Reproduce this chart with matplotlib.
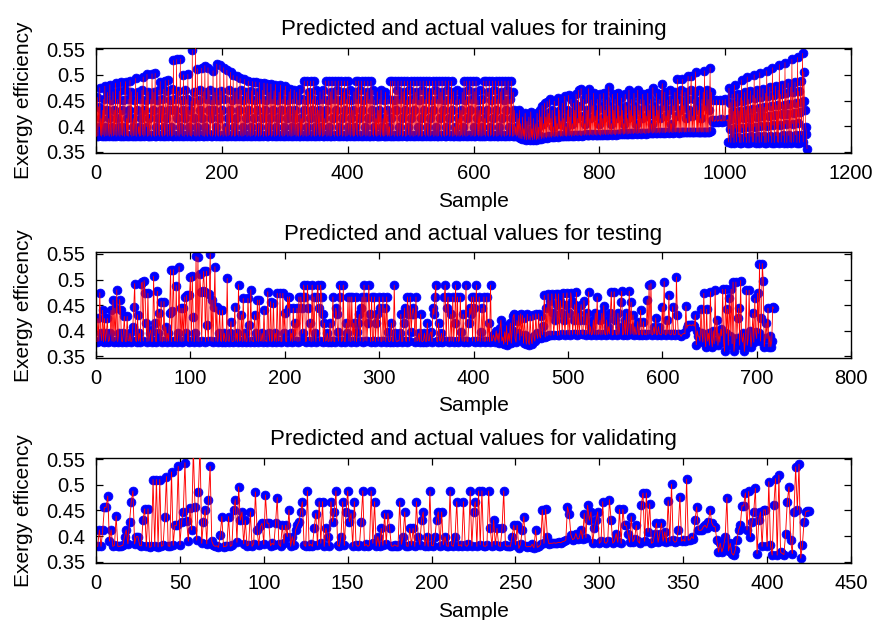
import numpy as np
import matplotlib
matplotlib.use("Agg")
import matplotlib.pyplot as plt

# ---------------- data ----------------
train_actual = [
    0.380, 0.456, 0.381, 0.438, 0.399, 0.475, 0.382, 0.415, 0.380, 0.431,
    0.383, 0.452, 0.380, 0.478, 0.399, 0.381, 0.431, 0.466, 0.382, 0.415,
    0.380, 0.481, 0.384, 0.451, 0.380, 0.399, 0.467, 0.381, 0.431, 0.383,
    0.484, 0.380, 0.415, 0.452, 0.382, 0.399, 0.468, 0.380, 0.486, 0.383,
    0.431, 0.381, 0.451, 0.399, 0.380, 0.470, 0.487, 0.382, 0.415, 0.381,
    0.452, 0.380, 0.431, 0.489, 0.383, 0.467, 0.380, 0.399, 0.415, 0.381,
    0.451, 0.382, 0.493, 0.380, 0.431, 0.466, 0.384, 0.399, 0.380, 0.452,
    0.381, 0.415, 0.470, 0.383, 0.496, 0.380, 0.431, 0.382, 0.451, 0.399,
    0.501, 0.380, 0.467, 0.381, 0.415, 0.383, 0.452, 0.380, 0.502, 0.431,
    0.382, 0.466, 0.380, 0.503, 0.399, 0.381, 0.451, 0.415, 0.383, 0.470,
    0.380, 0.487, 0.431, 0.382, 0.452, 0.380, 0.472, 0.399, 0.381, 0.489,
    0.383, 0.415, 0.468, 0.380, 0.490, 0.431, 0.382, 0.451, 0.399, 0.380,
    0.473, 0.381, 0.528, 0.383, 0.431, 0.452, 0.380, 0.530, 0.415, 0.382,
    0.468, 0.380, 0.399, 0.531, 0.384, 0.451, 0.381, 0.431, 0.500, 0.380,
    0.415, 0.470, 0.383, 0.452, 0.380, 0.501, 0.399, 0.382, 0.431, 0.381,
    0.449, 0.380, 0.548, 0.383, 0.415, 0.466, 0.381, 0.560, 0.380, 0.399,
    0.512, 0.382, 0.451, 0.380, 0.470, 0.431, 0.383, 0.513, 0.415, 0.381,
    0.467, 0.380, 0.518, 0.399, 0.382, 0.452, 0.380, 0.514, 0.431, 0.384,
    0.470, 0.381, 0.415, 0.451, 0.380, 0.508, 0.383, 0.431, 0.466, 0.380,
    0.399, 0.521, 0.382, 0.451, 0.380, 0.415, 0.519, 0.381, 0.468, 0.383,
    0.431, 0.380, 0.514, 0.452, 0.382, 0.399, 0.380, 0.509, 0.415, 0.381,
    0.470, 0.383, 0.431, 0.505, 0.380, 0.451, 0.382, 0.499, 0.399, 0.380,
    0.467, 0.381, 0.415, 0.497, 0.383, 0.452, 0.380, 0.431, 0.493, 0.382,
    0.470, 0.380, 0.399, 0.451, 0.381, 0.491, 0.383, 0.415, 0.466, 0.380,
    0.431, 0.488, 0.382, 0.452, 0.380, 0.399, 0.469, 0.381, 0.487, 0.383,
    0.415, 0.451, 0.380, 0.486, 0.382, 0.431, 0.467, 0.380, 0.399, 0.485,
    0.381, 0.452, 0.383, 0.415, 0.470, 0.380, 0.484, 0.431, 0.382, 0.451,
    0.380, 0.483, 0.399, 0.381, 0.466, 0.383, 0.415, 0.482, 0.380, 0.452,
    0.382, 0.431, 0.469, 0.380, 0.481, 0.399, 0.381, 0.451, 0.383, 0.415,
    0.466, 0.380, 0.480, 0.431, 0.382, 0.452, 0.380, 0.399, 0.470, 0.381,
    0.478, 0.383, 0.415, 0.451, 0.380, 0.431, 0.467, 0.382, 0.472, 0.380,
    0.399, 0.452, 0.381, 0.415, 0.470, 0.383, 0.431, 0.380, 0.466, 0.382,
    0.451, 0.380, 0.399, 0.472, 0.381, 0.415, 0.383, 0.452, 0.380, 0.431,
    0.488, 0.382, 0.451, 0.380, 0.399, 0.488, 0.381, 0.467, 0.383, 0.415,
    0.488, 0.380, 0.431, 0.452, 0.382, 0.488, 0.380, 0.399, 0.470, 0.381,
    0.415, 0.451, 0.383, 0.431, 0.380, 0.467, 0.382, 0.399, 0.452, 0.380,
    0.470, 0.381, 0.415, 0.383, 0.488, 0.431, 0.380, 0.451, 0.382, 0.488,
    0.399, 0.380, 0.467, 0.381, 0.488, 0.415, 0.383, 0.452, 0.380, 0.488,
    0.431, 0.382, 0.470, 0.380, 0.488, 0.399, 0.381, 0.451, 0.383, 0.488,
    0.415, 0.380, 0.466, 0.382, 0.488, 0.431, 0.380, 0.452, 0.381, 0.488,
    0.399, 0.383, 0.470, 0.380, 0.415, 0.451, 0.382, 0.431, 0.380, 0.467,
    0.381, 0.399, 0.488, 0.383, 0.452, 0.380, 0.488, 0.415, 0.382, 0.470,
    0.380, 0.488, 0.431, 0.381, 0.451, 0.383, 0.488, 0.399, 0.380, 0.466,
    0.382, 0.488, 0.415, 0.380, 0.452, 0.381, 0.488, 0.431, 0.383, 0.470,
    0.380, 0.399, 0.451, 0.382, 0.415, 0.380, 0.467, 0.381, 0.431, 0.383,
    0.452, 0.380, 0.470, 0.399, 0.382, 0.415, 0.380, 0.451, 0.381, 0.466,
    0.383, 0.431, 0.380, 0.452, 0.382, 0.399, 0.380, 0.488, 0.415, 0.381,
    0.488, 0.383, 0.451, 0.380, 0.488, 0.431, 0.382, 0.470, 0.380, 0.488,
    0.399, 0.381, 0.452, 0.383, 0.488, 0.415, 0.380, 0.467, 0.382, 0.488,
    0.431, 0.380, 0.451, 0.381, 0.488, 0.399, 0.383, 0.470, 0.380, 0.488,
    0.415, 0.382, 0.452, 0.380, 0.488, 0.431, 0.381, 0.466, 0.383, 0.488,
    0.399, 0.380, 0.451, 0.382, 0.488, 0.415, 0.380, 0.470, 0.381, 0.488,
    0.431, 0.383, 0.452, 0.380, 0.488, 0.399, 0.382, 0.467, 0.380, 0.488,
    0.415, 0.381, 0.451, 0.383, 0.488, 0.431, 0.380, 0.470, 0.382, 0.488,
    0.399, 0.380, 0.452, 0.381, 0.488, 0.415, 0.383, 0.466, 0.380, 0.488,
    0.431, 0.382, 0.451, 0.380, 0.488, 0.399, 0.381, 0.470, 0.383, 0.488,
    0.415, 0.380, 0.452, 0.382, 0.488, 0.431, 0.380, 0.467, 0.381, 0.399,
    0.383, 0.451, 0.380, 0.470, 0.382, 0.415, 0.380, 0.452, 0.381, 0.431,
    0.383, 0.466, 0.380, 0.399, 0.488, 0.382, 0.451, 0.380, 0.488, 0.415,
    0.381, 0.470, 0.383, 0.488, 0.431, 0.380, 0.452, 0.382, 0.488, 0.399,
    0.380, 0.467, 0.381, 0.488, 0.415, 0.383, 0.451, 0.380, 0.431, 0.382,
    0.470, 0.380, 0.399, 0.452, 0.381, 0.488, 0.383, 0.415, 0.380, 0.488,
    0.431, 0.382, 0.466, 0.380, 0.488, 0.399, 0.381, 0.451, 0.383, 0.488,
    0.415, 0.380, 0.470, 0.382, 0.488, 0.431, 0.380, 0.452, 0.381, 0.488,
    0.399, 0.383, 0.467, 0.380, 0.488, 0.415, 0.382, 0.451, 0.380, 0.488,
    0.431, 0.381, 0.470, 0.383, 0.488, 0.399, 0.380, 0.452, 0.382, 0.488,
    0.415, 0.380, 0.466, 0.381, 0.431, 0.383, 0.399, 0.380, 0.425, 0.382,
    0.415, 0.378, 0.431, 0.376, 0.405, 0.390, 0.375, 0.418, 0.380, 0.395,
    0.374, 0.425, 0.385, 0.373, 0.410, 0.392, 0.374, 0.418, 0.380, 0.373,
    0.428, 0.378, 0.395, 0.373, 0.415, 0.384, 0.374, 0.405, 0.390, 0.373,
    0.425, 0.376, 0.398, 0.374, 0.432, 0.380, 0.418, 0.375, 0.440, 0.378,
    0.405, 0.376, 0.445, 0.379, 0.418, 0.377, 0.448, 0.380, 0.425, 0.378,
    0.452, 0.380, 0.415, 0.378, 0.431, 0.381, 0.399, 0.379, 0.449, 0.380,
    0.420, 0.381, 0.405, 0.379, 0.455, 0.382, 0.431, 0.380, 0.410, 0.381,
    0.445, 0.380, 0.415, 0.382, 0.458, 0.381, 0.399, 0.380, 0.431, 0.382,
    0.460, 0.381, 0.418, 0.383, 0.452, 0.380, 0.405, 0.382, 0.445, 0.381,
    0.431, 0.383, 0.462, 0.382, 0.415, 0.381, 0.470, 0.383, 0.440, 0.382,
    0.473, 0.381, 0.420, 0.383, 0.452, 0.382, 0.405, 0.384, 0.462, 0.382,
    0.431, 0.383, 0.473, 0.382, 0.415, 0.384, 0.451, 0.383, 0.440, 0.382,
    0.464, 0.384, 0.420, 0.383, 0.431, 0.382, 0.452, 0.384, 0.405, 0.383,
    0.462, 0.382, 0.440, 0.384, 0.415, 0.383, 0.464, 0.385, 0.431, 0.383,
    0.451, 0.384, 0.420, 0.383, 0.477, 0.385, 0.440, 0.384, 0.405, 0.383,
    0.462, 0.385, 0.431, 0.384, 0.452, 0.383, 0.415, 0.385, 0.464, 0.384,
    0.440, 0.385, 0.420, 0.384, 0.455, 0.386, 0.431, 0.384, 0.405, 0.385,
    0.462, 0.386, 0.440, 0.384, 0.415, 0.385, 0.470, 0.386, 0.431, 0.385,
    0.452, 0.386, 0.420, 0.385, 0.464, 0.387, 0.440, 0.386, 0.405, 0.385,
    0.470, 0.386, 0.431, 0.387, 0.452, 0.385, 0.415, 0.386, 0.462, 0.387,
    0.451, 0.386, 0.440, 0.385, 0.420, 0.387, 0.464, 0.386, 0.431, 0.387,
    0.452, 0.388, 0.405, 0.386, 0.475, 0.387, 0.440, 0.388, 0.420, 0.386,
    0.464, 0.387, 0.431, 0.388, 0.452, 0.386, 0.415, 0.388, 0.462, 0.483,
    0.387, 0.440, 0.388, 0.466, 0.387, 0.420, 0.389, 0.451, 0.388, 0.431,
    0.387, 0.470, 0.389, 0.405, 0.388, 0.452, 0.387, 0.440, 0.389, 0.466,
    0.388, 0.420, 0.389, 0.491, 0.388, 0.452, 0.387, 0.431, 0.389, 0.470,
    0.388, 0.491, 0.389, 0.440, 0.388, 0.466, 0.389, 0.415, 0.388, 0.452,
    0.497, 0.389, 0.431, 0.388, 0.470, 0.497, 0.389, 0.420, 0.388, 0.452,
    0.389, 0.466, 0.506, 0.388, 0.440, 0.389, 0.431, 0.388, 0.470, 0.389,
    0.415, 0.388, 0.452, 0.389, 0.466, 0.388, 0.508, 0.389, 0.440, 0.388,
    0.470, 0.389, 0.452, 0.388, 0.431, 0.514, 0.390, 0.466, 0.412, 0.409,
    0.451, 0.410, 0.409, 0.412, 0.410, 0.451, 0.411, 0.409, 0.412, 0.410,
    0.451, 0.411, 0.410, 0.413, 0.409, 0.451, 0.412, 0.410, 0.411, 0.452,
    0.412, 0.410, 0.411, 0.413,
    0.369, 0.474, 0.395, 0.446, 0.368, 0.413, 0.462, 0.378, 0.429, 0.368,
    0.480, 0.396, 0.448, 0.369, 0.414, 0.463, 0.379, 0.430, 0.368, 0.455,
    0.368, 0.490, 0.397, 0.450, 0.369, 0.415, 0.466, 0.379, 0.432, 0.368,
    0.496, 0.398, 0.452, 0.368, 0.416, 0.469, 0.380, 0.434, 0.369, 0.460,
    0.369, 0.500, 0.399, 0.454, 0.368, 0.418, 0.471, 0.380, 0.436, 0.368,
    0.504, 0.400, 0.456, 0.369, 0.419, 0.473, 0.381, 0.437, 0.368, 0.464,
    0.368, 0.508, 0.401, 0.458, 0.369, 0.420, 0.476, 0.381, 0.439, 0.368,
    0.514, 0.402, 0.460, 0.368, 0.421, 0.478, 0.381, 0.441, 0.369, 0.470,
    0.368, 0.520, 0.403, 0.462, 0.369, 0.423, 0.481, 0.382, 0.442, 0.368,
    0.524, 0.404, 0.464, 0.368, 0.424, 0.484, 0.382, 0.444, 0.369, 0.476,
    0.368, 0.530, 0.405, 0.466, 0.369, 0.425, 0.486, 0.383, 0.446, 0.368,
    0.534, 0.406, 0.468, 0.368, 0.427, 0.489, 0.383, 0.447, 0.542, 0.369,
    0.506, 0.449, 0.431, 0.399, 0.385, 0.356,
]
# the predicted curve lies on top of the actual markers at this resolution
train_predicted = train_actual

test_actual = [
    0.379, 0.424, 0.380, 0.474, 0.395, 0.381, 0.440, 0.379, 0.424, 0.380,
    0.395, 0.424, 0.379, 0.381, 0.395, 0.440, 0.380, 0.460, 0.379, 0.444,
    0.381, 0.480, 0.379, 0.395, 0.461, 0.440, 0.380, 0.379, 0.395, 0.428,
    0.380, 0.379, 0.428, 0.381, 0.380, 0.395, 0.379, 0.380, 0.408, 0.447,
    0.492, 0.381, 0.379, 0.431, 0.380, 0.395, 0.379, 0.492, 0.495, 0.380,
    0.498, 0.473, 0.415, 0.379, 0.473, 0.380, 0.395, 0.402, 0.379, 0.380,
    0.506, 0.415, 0.380, 0.379, 0.477, 0.395, 0.435, 0.380, 0.457, 0.379,
    0.381, 0.457, 0.380, 0.408, 0.379, 0.395, 0.380, 0.435, 0.519, 0.379,
    0.438, 0.519, 0.381, 0.380, 0.488, 0.379, 0.395, 0.525, 0.380, 0.444,
    0.379, 0.444, 0.380, 0.466, 0.395, 0.469, 0.381, 0.379, 0.469, 0.504,
    0.380, 0.506, 0.427, 0.379, 0.395, 0.545, 0.380, 0.543, 0.379, 0.511,
    0.476, 0.380, 0.477, 0.516, 0.476, 0.379, 0.516, 0.411, 0.380, 0.472,
    0.550, 0.380, 0.460, 0.379, 0.447, 0.525, 0.380, 0.447, 0.379, 0.395,
    0.440, 0.381, 0.379, 0.440, 0.380, 0.395, 0.379, 0.380, 0.502, 0.381,
    0.379, 0.395, 0.418, 0.380, 0.379, 0.381, 0.447, 0.380, 0.395, 0.379,
    0.490, 0.380, 0.381, 0.431, 0.379, 0.463, 0.380, 0.395, 0.379, 0.380,
    0.463, 0.411, 0.379, 0.480, 0.381, 0.380, 0.379, 0.431, 0.395, 0.380,
    0.460, 0.379, 0.460, 0.381, 0.380, 0.395, 0.379, 0.440, 0.380, 0.381,
    0.379, 0.476, 0.395, 0.380, 0.457, 0.379, 0.381, 0.454, 0.380, 0.395,
    0.379, 0.473, 0.380, 0.381, 0.473, 0.379, 0.380, 0.473, 0.395, 0.434,
    0.380, 0.379, 0.466, 0.444, 0.466, 0.380, 0.395, 0.379, 0.444, 0.381,
    0.415, 0.380, 0.444, 0.379, 0.466, 0.380, 0.466, 0.444, 0.395, 0.489,
    0.466, 0.379, 0.380, 0.489, 0.444, 0.381, 0.415, 0.379, 0.489, 0.380,
    0.466, 0.395, 0.379, 0.466, 0.489, 0.444, 0.380, 0.489, 0.466, 0.432,
    0.379, 0.415, 0.380, 0.381, 0.395, 0.379, 0.380, 0.415, 0.379, 0.381,
    0.466, 0.380, 0.379, 0.444, 0.432, 0.398, 0.380, 0.489, 0.466, 0.379,
    0.381, 0.489, 0.380, 0.379, 0.415, 0.395, 0.466, 0.380, 0.466, 0.379,
    0.466, 0.381, 0.415, 0.380, 0.466, 0.379, 0.398, 0.415, 0.432, 0.380,
    0.444, 0.466, 0.379, 0.489, 0.381, 0.466, 0.380, 0.415, 0.489, 0.432,
    0.379, 0.466, 0.380, 0.381, 0.466, 0.379, 0.415, 0.432, 0.380, 0.466,
    0.444, 0.379, 0.380, 0.466, 0.381, 0.444, 0.379, 0.466, 0.398, 0.380,
    0.379, 0.381, 0.415, 0.380, 0.379, 0.489, 0.395, 0.380, 0.379, 0.381,
    0.380, 0.395, 0.432, 0.379, 0.380, 0.415, 0.444, 0.381, 0.379, 0.466,
    0.432, 0.380, 0.466, 0.398, 0.432, 0.444, 0.432, 0.379, 0.466, 0.380,
    0.381, 0.395, 0.379, 0.432, 0.380, 0.379, 0.381, 0.395, 0.380, 0.379,
    0.415, 0.381, 0.380, 0.395, 0.398, 0.379, 0.444, 0.432, 0.466, 0.489,
    0.380, 0.379, 0.415, 0.381, 0.380, 0.395, 0.379, 0.380, 0.466, 0.489,
    0.380, 0.444, 0.466, 0.379, 0.381, 0.432, 0.380, 0.466, 0.379, 0.415,
    0.489, 0.380, 0.466, 0.379, 0.381, 0.466, 0.398, 0.380, 0.432, 0.379,
    0.381, 0.489, 0.380, 0.379, 0.415, 0.444, 0.432, 0.466, 0.380, 0.466,
    0.444, 0.379, 0.489, 0.380, 0.381, 0.466, 0.379, 0.398, 0.444, 0.380,
    0.466, 0.379, 0.381, 0.466, 0.380, 0.415, 0.379, 0.489, 0.380, 0.381,
    0.392, 0.385, 0.379, 0.400, 0.382, 0.395, 0.377, 0.405, 0.421, 0.380,
    0.388, 0.374, 0.398, 0.378, 0.410, 0.373, 0.395, 0.380, 0.415, 0.376,
    0.402, 0.428, 0.432, 0.385, 0.378, 0.420, 0.395, 0.430, 0.382, 0.433,
    0.390, 0.430, 0.376, 0.425, 0.392, 0.374, 0.432, 0.380, 0.373, 0.428,
    0.385, 0.375, 0.431, 0.390, 0.380, 0.433, 0.395, 0.385, 0.433, 0.390,
    0.386, 0.428, 0.392, 0.410, 0.469, 0.388, 0.445, 0.390, 0.472, 0.392,
    0.459, 0.391, 0.472, 0.434, 0.392, 0.421, 0.472, 0.451, 0.391, 0.472,
    0.392, 0.459, 0.434, 0.393, 0.473, 0.421, 0.392, 0.451, 0.474, 0.393,
    0.434, 0.392, 0.474, 0.459, 0.393, 0.421, 0.451, 0.394, 0.475, 0.392,
    0.434, 0.393, 0.421, 0.451, 0.394, 0.393, 0.459, 0.421, 0.392, 0.434,
    0.394, 0.476, 0.393, 0.408, 0.392, 0.394, 0.421, 0.393, 0.434, 0.392,
    0.466, 0.393, 0.394, 0.421, 0.392, 0.434, 0.393, 0.449, 0.394, 0.392,
    0.421, 0.393, 0.408, 0.394, 0.434, 0.476, 0.392, 0.393, 0.476, 0.421,
    0.394, 0.392, 0.434, 0.393, 0.408, 0.456, 0.477, 0.392, 0.394, 0.421,
    0.393, 0.434, 0.392, 0.408, 0.477, 0.393, 0.456, 0.394, 0.431, 0.392,
    0.408, 0.393, 0.394, 0.418, 0.392, 0.393, 0.440, 0.394, 0.392, 0.418,
    0.393, 0.394, 0.392, 0.461, 0.393, 0.489, 0.394, 0.492, 0.392, 0.393,
    0.408, 0.394, 0.425, 0.392, 0.393, 0.408, 0.394, 0.393, 0.392, 0.447,
    0.394, 0.496, 0.393, 0.392, 0.421, 0.394, 0.470, 0.393, 0.392, 0.394,
    0.447, 0.393, 0.392, 0.394, 0.505, 0.431, 0.393, 0.394, 0.392, 0.389,
    0.393, 0.394, 0.395, 0.394, 0.448, 0.405, 0.411, 0.410, 0.412, 0.411,
    0.410, 0.412, 0.411, 0.409, 0.431, 0.373, 0.400, 0.390, 0.389, 0.380,
    0.442, 0.395, 0.378, 0.473, 0.390, 0.369, 0.442, 0.380, 0.395, 0.372,
    0.476, 0.385, 0.369, 0.400, 0.375, 0.480, 0.380, 0.421, 0.372, 0.395,
    0.378, 0.403, 0.390, 0.481, 0.378, 0.360, 0.481, 0.395, 0.442, 0.372,
    0.464, 0.390, 0.481, 0.375, 0.495, 0.360, 0.380, 0.495, 0.385, 0.424,
    0.444, 0.372, 0.498, 0.390, 0.378, 0.395, 0.360, 0.385, 0.479, 0.372,
    0.385, 0.479, 0.400, 0.369, 0.390, 0.434, 0.378, 0.463, 0.398, 0.385,
    0.473, 0.395, 0.531, 0.380, 0.424, 0.531, 0.498, 0.369, 0.385, 0.415,
    0.385, 0.444, 0.369, 0.390, 0.369, 0.380, 0.447, 0.444,
]
test_predicted = test_actual

val_actual = [
    0.380, 0.412, 0.380, 0.412, 0.456, 0.456, 0.478, 0.390, 0.412, 0.380,
    0.382, 0.439, 0.380, 0.380, 0.381, 0.382, 0.399, 0.412, 0.385, 0.428,
    0.467, 0.488, 0.385, 0.399, 0.399, 0.382, 0.381, 0.431, 0.453, 0.380,
    0.453, 0.378, 0.380, 0.510, 0.380, 0.510, 0.379, 0.510, 0.380, 0.382,
    0.437, 0.516, 0.381, 0.380, 0.525, 0.382, 0.421, 0.421, 0.536, 0.383,
    0.428, 0.447, 0.543, 0.430, 0.390, 0.454, 0.412, 0.570, 0.457, 0.392,
    0.486, 0.575, 0.386, 0.428, 0.451, 0.385, 0.471, 0.536, 0.390, 0.382,
    0.380, 0.381, 0.378, 0.402, 0.438, 0.379, 0.380, 0.381, 0.438, 0.380,
    0.382, 0.451, 0.471, 0.388, 0.496, 0.431, 0.447, 0.385, 0.431, 0.381,
    0.383, 0.447, 0.380, 0.385, 0.486, 0.412, 0.382, 0.419, 0.425, 0.384,
    0.480, 0.425, 0.425, 0.381, 0.386, 0.383, 0.425, 0.475, 0.384, 0.380,
    0.421, 0.386, 0.421, 0.399, 0.451, 0.380, 0.399, 0.382, 0.412, 0.421,
    0.428, 0.447, 0.467, 0.383, 0.380, 0.488, 0.381, 0.384, 0.380, 0.415,
    0.444, 0.382, 0.467, 0.386, 0.467, 0.380, 0.415, 0.399, 0.381, 0.467,
    0.428, 0.447, 0.488, 0.383, 0.380, 0.399, 0.467, 0.382, 0.447, 0.488,
    0.428, 0.444, 0.380, 0.467, 0.383, 0.380, 0.382, 0.428, 0.488, 0.381,
    0.384, 0.380, 0.382, 0.488, 0.386, 0.467, 0.381, 0.399, 0.380, 0.415,
    0.382, 0.444, 0.385, 0.444, 0.415, 0.381, 0.380, 0.383, 0.381, 0.380,
    0.467, 0.384, 0.399, 0.447, 0.381, 0.380, 0.415, 0.382, 0.415, 0.380,
    0.467, 0.399, 0.383, 0.431, 0.447, 0.381, 0.399, 0.380, 0.488, 0.382,
    0.381, 0.399, 0.431, 0.447, 0.380, 0.447, 0.383, 0.399, 0.381, 0.380,
    0.488, 0.382, 0.380, 0.399, 0.467, 0.381, 0.383, 0.380, 0.467, 0.382,
    0.380, 0.384, 0.488, 0.381, 0.447, 0.467, 0.380, 0.488, 0.383, 0.488,
    0.381, 0.380, 0.382, 0.488, 0.415, 0.380, 0.431, 0.383, 0.415, 0.381,
    0.380, 0.415, 0.488, 0.382, 0.380, 0.381, 0.380, 0.399, 0.421, 0.383,
    0.421, 0.376, 0.384, 0.412, 0.438, 0.381, 0.379, 0.380, 0.379, 0.384,
    0.377, 0.412, 0.378, 0.380, 0.384, 0.451, 0.386, 0.452, 0.399, 0.385,
    0.386, 0.386, 0.387, 0.386, 0.387, 0.388, 0.387, 0.389, 0.390, 0.392,
    0.457, 0.444, 0.403, 0.393, 0.395, 0.405, 0.394, 0.396, 0.412, 0.395,
    0.444, 0.397, 0.460, 0.431, 0.447, 0.386, 0.415, 0.431, 0.447, 0.386,
    0.390, 0.467, 0.388, 0.386, 0.390, 0.471, 0.431, 0.386, 0.390, 0.405,
    0.388, 0.452, 0.386, 0.452, 0.421, 0.421, 0.405, 0.388, 0.438, 0.389,
    0.395, 0.421, 0.390, 0.386, 0.460, 0.484, 0.390, 0.484, 0.408, 0.463,
    0.386, 0.388, 0.405, 0.425, 0.388, 0.405, 0.425, 0.390, 0.408, 0.388,
    0.469, 0.390, 0.501, 0.392, 0.388, 0.390, 0.412, 0.477, 0.390, 0.393,
    0.390, 0.511, 0.392, 0.393, 0.399, 0.395, 0.431, 0.457, 0.412, 0.411,
    0.412, 0.418, 0.421, 0.416, 0.428, 0.451, 0.425, 0.419, 0.418, 0.392,
    0.369, 0.386, 0.369, 0.380, 0.399, 0.475, 0.371, 0.386, 0.366, 0.363,
    0.373, 0.392, 0.412, 0.421, 0.459, 0.459, 0.484, 0.412, 0.487, 0.399,
    0.428, 0.447, 0.493, 0.366, 0.431, 0.447, 0.380, 0.451, 0.451, 0.380,
    0.506, 0.382, 0.363, 0.460, 0.512, 0.363, 0.519, 0.369, 0.366, 0.364,
    0.405, 0.467, 0.496, 0.392, 0.366, 0.447, 0.535, 0.451, 0.540, 0.357,
    0.382, 0.428, 0.447, 0.449, 0.449,
]
val_predicted = val_actual

titles = ["Predicted and actual values for training",
          "Predicted and actual values for testing",
          "Predicted and actual values for validating"]
ylabels = ["Exergy efficiency", "Exergy efficency", "Exergy efficency"]
xlabel = "Sample"
x_max = [1200, 800, 450]
x_step = [200, 100, 50]
y_ticks = [0.35, 0.40, 0.45, 0.50, 0.55]
y_ticklabels = ["0.35", "0.4", "0.45", "0.5", "0.55"]

actual_sets = [train_actual, test_actual, val_actual]
predicted_sets = [train_predicted, test_predicted, val_predicted]

# ---------------- figure ----------------
plt.rcParams['font.family'] = ['Liberation Sans', 'DejaVu Sans']
fig = plt.figure(figsize=(8.76, 6.2), dpi=100)

left, width, height = 0.1096, 0.8619, 0.1704
bottoms = [0.7527, 0.4226, 0.0915]
line_widths = [0.45, 0.6, 0.65]

for k in range(3):
    ax = fig.add_axes([left, bottoms[k], width, height])
    act = np.asarray(actual_sets[k])
    pred = np.asarray(predicted_sets[k])
    x = np.arange(1, len(act) + 1)
    ax.plot(x, act, linestyle='none', marker='o', markersize=6.4,
            markerfacecolor='#0000ff', markeredgecolor='#0000ff',
            markeredgewidth=0.5, zorder=2)
    ax.plot(x, pred, color='#ff0000', linewidth=line_widths[k], zorder=3)
    ax.set_xlim(0, x_max[k])
    ax.set_ylim(0.347, 0.553)
    ax.set_xticks(np.arange(0, x_max[k] + 1, x_step[k]))
    ax.set_yticks(y_ticks)
    ax.set_yticklabels(y_ticklabels)
    ax.tick_params(direction='in', top=True, right=True, length=5,
                   width=0.9, pad=8, labelsize=14.5, colors='black')
    for s in ax.spines.values():
        s.set_linewidth(1.0)
    ax.set_title(titles[k], fontsize=16, pad=9)
    ax.set_xlabel(xlabel, fontsize=15, labelpad=6)
    ax.set_ylabel(ylabels[k], fontsize=15, labelpad=9)

fig.savefig('out.png', dpi=100)
